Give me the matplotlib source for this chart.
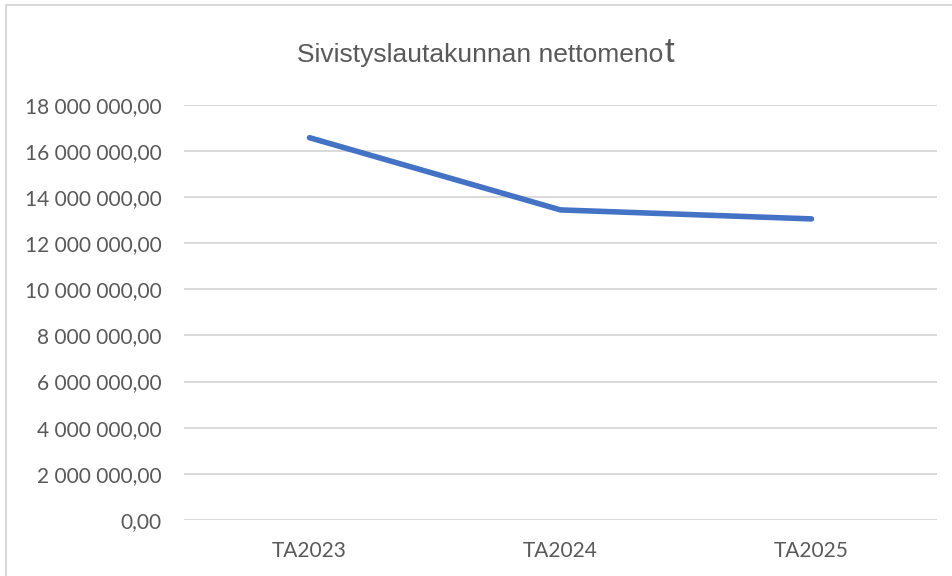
import matplotlib.pyplot as plt
from matplotlib.lines import Line2D
from matplotlib.ticker import FuncFormatter

# Data
categories = ['TA2023', 'TA2024', 'TA2025']
nettomenot = [16570000, 13440000, 13050000]
y_ticks = list(range(0, 18000001, 2000000))

TEXT_COLOR = '#595959'
GRID_COLOR = '#d9d9d9'
LINE_COLOR = '#4472c4'


def fi_format(v, pos=None):
    # finnish style: space as thousands separator, comma as decimal
    s = '{:,.2f}'.format(v)
    return s.replace(',', ' ').replace('.', ',')


fig = plt.figure(figsize=(9.52, 5.76), dpi=100)
ax = fig.add_axes([184 / 952, 1 - 520 / 576, (937 - 184) / 952, (520 - 104.7) / 576])

x = list(range(len(categories)))
ax.plot(x, nettomenot, color=LINE_COLOR, linewidth=4, solid_capstyle='round',
        solid_joinstyle='round', zorder=3)

ax.set_xlim(-0.5, len(categories) - 0.5)
ax.set_ylim(0, 18000000)
ax.set_yticks(y_ticks)
ax.yaxis.set_major_formatter(FuncFormatter(fi_format))
ax.set_xticks(x)
ax.set_xticklabels(categories)

ax.grid(axis='y', color=GRID_COLOR, linewidth=1.4)
ax.set_axisbelow(True)
for s in ax.spines.values():
    s.set_visible(False)
ax.tick_params(length=0, colors=TEXT_COLOR, labelsize=15)
ax.tick_params(axis='y', pad=16)
ax.tick_params(axis='x', pad=15)
for lbl in ax.get_xticklabels() + ax.get_yticklabels():
    lbl.set_family('Lato')

# title, last letter drawn bigger like in the original
t1 = fig.text(297 / 952, 1 - 62 / 576, 'Sivistyslautakunnan nettomeno', ha='left',
              va='baseline', fontsize=19, color=TEXT_COLOR, family='Liberation Sans')
fig.canvas.draw()
bb = t1.get_window_extent()
fig.text(bb.x1 / 952 + 0.001, 1 - 62 / 576, 't', ha='left', va='baseline',
         fontsize=25, color=TEXT_COLOR, family='Liberation Sans')

# chart border (left and top edges visible)
fig.add_artist(Line2D([6 / 952, 6 / 952], [0, 1 - 5 / 576], color=GRID_COLOR, linewidth=1.5))
fig.add_artist(Line2D([6 / 952, 1], [1 - 5 / 576, 1 - 5 / 576], color=GRID_COLOR, linewidth=1.5))

fig.savefig('out.png', dpi=100)
